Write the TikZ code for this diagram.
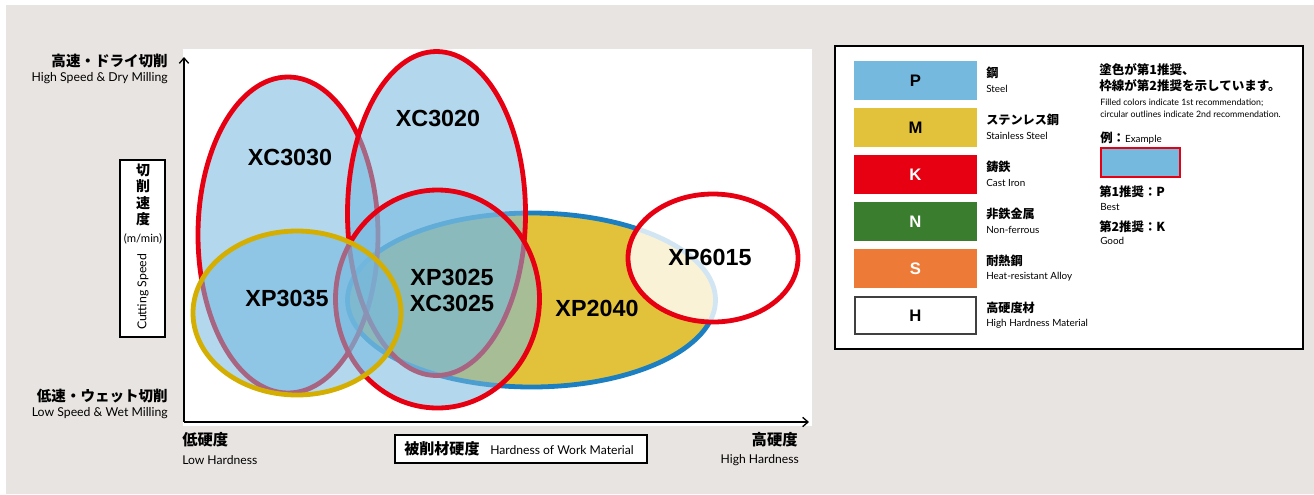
\documentclass[tikz,border=0pt]{standalone}
\usepackage{fontspec}
\setmainfont{Lato}
\newfontfamily\jp{Noto Sans CJK JP}
\newfontfamily\hv{Liberation Sans}
\usetikzlibrary{arrows.meta}
\definecolor{bggray}{HTML}{E8E4E1}
\definecolor{pblue}{HTML}{75B9DF}
\definecolor{myellow}{HTML}{E3C23B}
\definecolor{kred}{HTML}{E60012}
\definecolor{ngreen}{HTML}{3A7D2E}
\definecolor{sorange}{HTML}{EE7A37}
\definecolor{edgeblue}{HTML}{1B7FC2}
\definecolor{ringyellow}{HTML}{D4AE00}
\newcommand{\jpsize}[1]{\jp\bfseries\fontsize{#1}{#1}\selectfont}
\newcommand{\ensize}[1]{\fontsize{#1}{#1}\selectfont}
\tikzstyle{region}=[line width=3.6pt]
\tikzstyle{blueset}=[region,fill=pblue,fill opacity=0.55]
\tikzstyle{grade}=[minimum width=90.75pt,minimum height=27.75pt,inner sep=0pt,line width=0.8pt,font=\hv\bfseries\fontsize{12.5}{12.5}\selectfont]
\tikzstyle{jpname}=[anchor=west,inner sep=0pt,font=\jpsize{9.1}]
\tikzstyle{enname}=[anchor=west,inner sep=0pt,font=\ensize{7.4}]
\tikzstyle{model}=[inner sep=0pt,font=\hv\bfseries\fontsize{17.5}{17.5}\selectfont]

\begin{document}
\begin{tikzpicture}[x=0.75pt,y=-0.75pt,>={Straight Barb[length=4pt,width=7pt]}]
	\useasboundingbox (0,0) rectangle (1314,494);
	\fill[white] (0,0) rectangle (1314,494);
	\fill[bggray] (6,5) rectangle (1314,494);
	\fill[white] (183,49) rectangle (812,426);
	
	% regions
	\draw[region,draw=edgeblue,fill=myellow] (531.5,300) ellipse [x radius=184,y radius=87];
	\draw[blueset,draw=kred] (288,235) ellipse [x radius=90,y radius=158];
	\draw[blueset,draw=kred] (436.5,213.5) ellipse [x radius=89,y radius=162];
	\draw[blueset,draw=kred] (437.5,299) ellipse [x radius=102,y radius=109];
	\draw[blueset,draw=ringyellow] (297,313) ellipse [x radius=104,y radius=82];
	\draw[region,draw=kred,fill=white,fill opacity=0.8] (713,258) ellipse [x radius=85,y radius=64];
	
	\node[model] (xc3030) at (290,157) {XC3030};
	\node[model] (xc3020) at (438,118) {XC3020};
	\node[model] (xp3035) at (287,298) {XP3035};
	\node[model] (xp3025) at (452,277) {XP3025};
	\node[model] (xc3025) at (452,303) {XC3025};
	\node[model] (xp2040) at (597,308) {XP2040};
	\node[model] (xp6015) at (710,257) {XP6015};
	
	% axes
	\coordinate (origin) at (184,422);
	\coordinate (ytop) at (184,57);
	\coordinate (xend) at (809,422);
	\draw[->,line width=1pt] (origin) -- (ytop);
	\draw[->,line width=1pt] (origin) -- (xend);
	
	\node[anchor=east,inner sep=0pt,font=\jpsize{10.9}] (hispeed) at (168,61) {高速・ドライ切削};
	\node[anchor=east,inner sep=0pt,font=\ensize{9.2}] (hispeeden) at (168,78) {High Speed \& Dry Milling};
	\node[anchor=east,inner sep=0pt,font=\jpsize{10.9}] (lospeed) at (168,396) {低速・ウェット切削};
	\node[anchor=east,inner sep=0pt,font=\ensize{9.2}] (lospeeden) at (168,413) {Low Speed \& Wet Milling};
	
	\node[draw,line width=0.8pt,fill=white,minimum width=33.75pt,minimum height=132.75pt] (speedbox) at (142.5,248.5) {};
	\node[inner sep=0pt,align=center,font=\jp\bfseries\fontsize{10.5}{12.2}\selectfont] (speedjp) at (143,195) {切\\削\\速\\度};
	\node[inner sep=0pt,font=\ensize{8.5}] (unit) at (143,239) {(m/min)};
	\node[inner sep=0pt,rotate=90,font=\ensize{9.2}] (speeden) at (143,292) {Cutting Speed};
	
	\node[anchor=west,inner sep=0pt,font=\jpsize{11.5}] (lohard) at (182,440) {低硬度};
	\node[anchor=west,inner sep=0pt,font=\ensize{9.1}] (lohardEn) at (182,460) {Low Hardness};
	\node[anchor=east,inner sep=0pt,font=\jpsize{11.5}] (hihard) at (798,440) {高硬度};
	\node[anchor=east,inner sep=0pt,font=\ensize{9.1}] (hihardEn) at (799,460) {High Hardness};
	\node[draw,line width=0.8pt,fill=white,minimum width=189pt,minimum height=21pt] (hardbox) at (521,449) {};
	\node[anchor=west,inner sep=0pt,font=\jpsize{11.3}] (hardjp) at (404,449) {被削材硬度};
	\node[anchor=west,inner sep=0pt,font=\ensize{9.1}] (harden) at (490,450) {Hardness of Work Material};
	
	% legend
	\node[draw,line width=0.8pt,fill=white,minimum width=351pt,minimum height=227.25pt] (legend) at (1069,197.5) {};
	\foreach \i/\lt/\col/\ed/\tc/\jn/\en in {0/P/pblue/pblue/black/鋼/Steel,1/M/myellow/myellow/black/ステンレス鋼/Stainless Steel,2/K/kred/kred/white/鋳鉄/Cast Iron,3/N/ngreen/ngreen/white/非鉄金属/Non-ferrous,4/S/sorange/sorange/white/耐熱鋼/Heat-resistant Alloy,5/H/white/black!75/black/高硬度材/High Hardness Material}{
		\pgfmathsetmacro\yy{80.5+47*\i}
		\node[grade,fill=\col,draw=\ed,text=\tc] (grade\lt) at (915.5,\yy) {\lt};
		\node[jpname] (name\lt) at (986,\yy-7.5) {\jn};
		\node[enname] (eng\lt) at (986,\yy+8.5) {\en};
	}
	\node[anchor=west,inner sep=0pt,align=left,font=\jp\bfseries\fontsize{9.4}{12}\selectfont] (note) at (1099,78) {塗色が第1推奨、\\枠線が第2推奨を示しています。};
	\node[anchor=west,inner sep=0pt,align=left,font=\fontsize{6.6}{9}\selectfont] (noteen) at (1100,108) {Filled colors indicate 1st recommendation;\\circular outlines indicate 2nd recommendation.};
	\node[anchor=west,inner sep=0pt] (exlabel) at (1100,138) {{\jpsize{9.3}例：}{\ensize{7.4}Example}};
	\node[draw=kred,line width=1.5pt,fill=pblue,minimum width=59.25pt,minimum height=21.75pt,inner sep=0pt] (exbox) at (1140.5,162.5) {};
	\node[anchor=west,inner sep=0pt,font=\jpsize{9.3}] (best) at (1099,192) {第1推奨：P};
	\node[anchor=west,inner sep=0pt,font=\ensize{7.4}] (besten) at (1100,207) {Best};
	\node[anchor=west,inner sep=0pt,font=\jpsize{9.3}] (good) at (1099,227) {第2推奨：K};
	\node[anchor=west,inner sep=0pt,font=\ensize{7.4}] (gooden) at (1100,241) {Good};
\end{tikzpicture}
\end{document}
